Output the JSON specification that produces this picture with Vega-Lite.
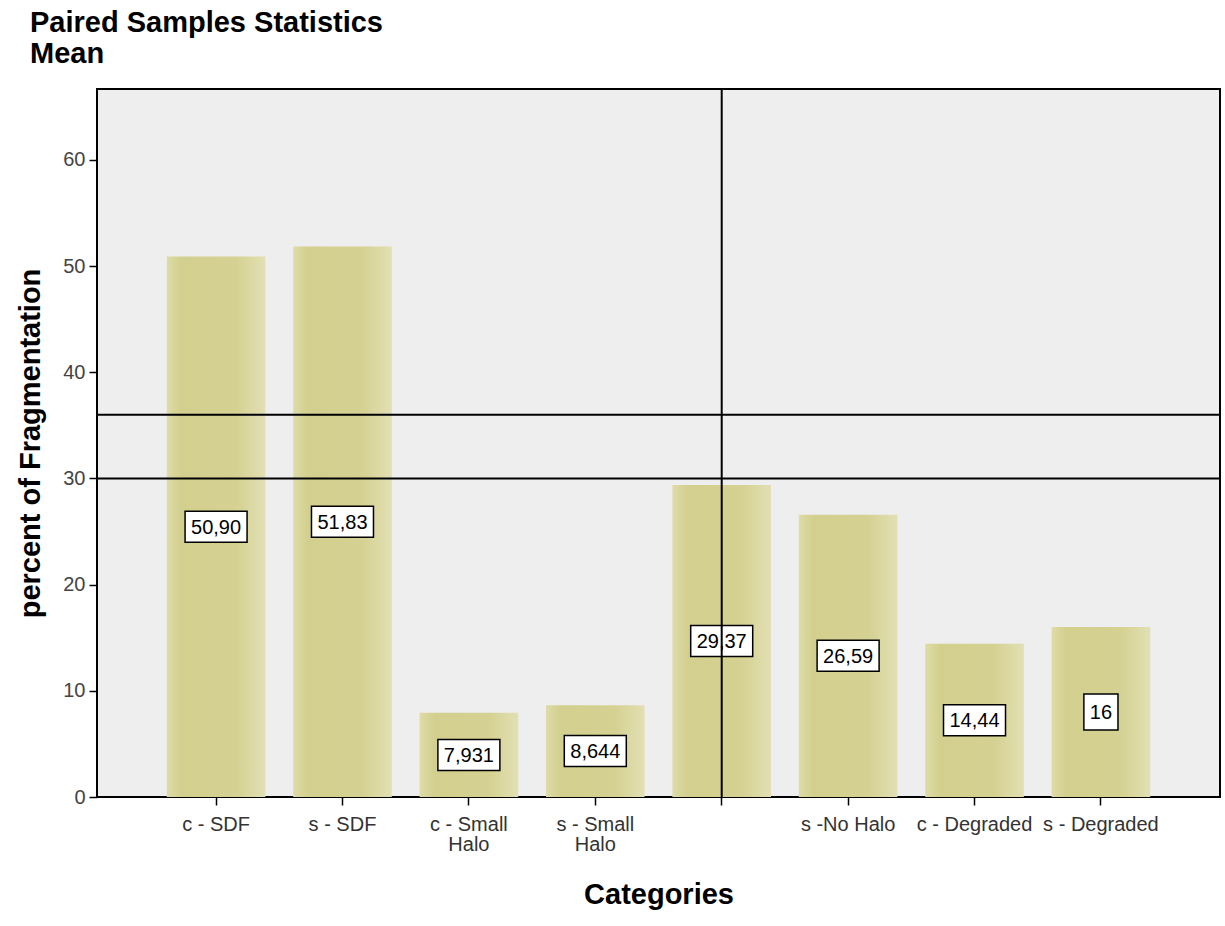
{
  "$schema": "https://vega.github.io/schema/vega-lite/v6.json",
  "width": 1123,
  "height": 708,
  "autosize": {"type": "none"},
  "padding": {"left": 97, "top": 89, "right": 5, "bottom": 129},
  "background": "white",
  "config": {
    "view": {"fill": "#eeeeee", "stroke": "black", "strokeWidth": 2},
    "font": "Liberation Sans"
  },
  "title": {
    "text": ["Paired Samples Statistics", "Mean"],
    "anchor": "start",
    "frame": "group",
    "dx": -67,
    "offset": 19,
    "fontSize": 29,
    "fontWeight": "bold",
    "font": "Liberation Sans",
    "color": "black",
    "lineHeight": 31,
    "baseline": "top"
  },
  "data": {
    "values": [
      {"cat": "c - SDF", "value": 50.90, "label": "50,90"},
      {"cat": "s - SDF", "value": 51.83, "label": "51,83"},
      {"cat": "c - Small Halo", "value": 7.931, "label": "7,931"},
      {"cat": "s - Small Halo", "value": 8.644, "label": "8,644"},
      {"cat": "c - No Halo", "value": 29.37, "label": "29,37"},
      {"cat": "s -No Halo", "value": 26.59, "label": "26,59"},
      {"cat": "c - Degraded", "value": 14.44, "label": "14,44"},
      {"cat": "s - Degraded", "value": 16, "label": "16"}
    ]
  },
  "layer": [
    {
      "mark": {
        "type": "bar",
        "color": {
          "gradient": "linear",
          "x1": 0, "x2": 1, "y1": 0, "y2": 0,
          "stops": [
            {"offset": 0, "color": "#dedca8"},
            {"offset": 0.15, "color": "#d3cf8e"},
            {"offset": 0.7, "color": "#d5d192"},
            {"offset": 1, "color": "#e2e0b4"}
          ]
        }
      },
      "encoding": {
        "x": {
          "field": "cat",
          "type": "nominal",
          "sort": null,
          "scale": {
            "domain": ["c - SDF", "s - SDF", "c - Small Halo", "s - Small Halo", "c - No Halo", "s -No Halo", "c - Degraded", "s - Degraded"],
            "paddingInner": 0.22,
            "paddingOuter": 0.552
          },
          "axis": {
            "title": "Categories",
            "titleFontSize": 29,
            "titleFontWeight": "bold",
            "titleColor": "black",
            "titlePadding": 26,
            "labelAngle": 0,
            "labelFontSize": 20,
            "labelColor": "#333333",
            "labelLineHeight": 20,
            "labelPadding": 9,
            "labelOverlap": false,
            "labelBound": false,
            "labelExpr": "datum.value == 'c - No Halo' ? '' : (indexof(datum.value, 'Small') >= 0 ? [substring(datum.value, 0, 9), 'Halo'] : datum.value)",
            "domain": false,
            "ticks": true,
            "tickSize": 8,
            "tickColor": "black",
            "tickWidth": 1.5
          }
        },
        "y": {
          "field": "value",
          "type": "quantitative",
          "scale": {"domain": [0, 66.67], "nice": false},
          "axis": {
            "title": "percent of Fragmentation",
            "titleFontSize": 29,
            "titleFontWeight": "bold",
            "titleColor": "black",
            "titlePadding": 17,
            "values": [0, 10, 20, 30, 40, 50, 60],
            "labelFontSize": 20,
            "labelColor": "#444444",
            "labelPadding": 4,
            "grid": false,
            "domain": false,
            "tickSize": 8,
            "tickColor": "black",
            "tickWidth": 1.5
          }
        }
      }
    },
    {
      "transform": [{"calculate": "datum.value / 2", "as": "mid"}],
      "mark": {"type": "point", "filled": true, "fill": "white", "stroke": "black", "strokeWidth": 1.5, "opacity": 1, "size": 3844},
      "encoding": {
        "x": {"field": "cat", "type": "nominal", "sort": null},
        "y": {"field": "mid", "type": "quantitative"},
        "shape": {
          "condition": {"test": "datum.label == '16'", "value": "M-0.55,-0.58H0.55V0.58H-0.55Z"},
          "value": "M-1,-0.5H1V0.5H-1Z"
        }
      }
    },
    {
      "transform": [{"calculate": "datum.value / 2", "as": "mid"}],
      "mark": {"type": "text", "fontSize": 20, "color": "black", "font": "Liberation Sans", "baseline": "middle", "align": "center", "dy": 1},
      "encoding": {
        "x": {"field": "cat", "type": "nominal", "sort": null},
        "y": {"field": "mid", "type": "quantitative"},
        "text": {"field": "label", "type": "nominal"}
      }
    },
    {
      "data": {"values": [{"ref": 30}, {"ref": 36}]},
      "mark": {"type": "rule", "color": "black", "strokeWidth": 2},
      "encoding": {"y": {"field": "ref", "type": "quantitative"}}
    },
    {
      "data": {"values": [{"cat": "c - No Halo"}]},
      "mark": {"type": "rule", "color": "black", "strokeWidth": 2},
      "encoding": {"x": {"field": "cat", "type": "nominal", "sort": null}}
    }
  ]
}
